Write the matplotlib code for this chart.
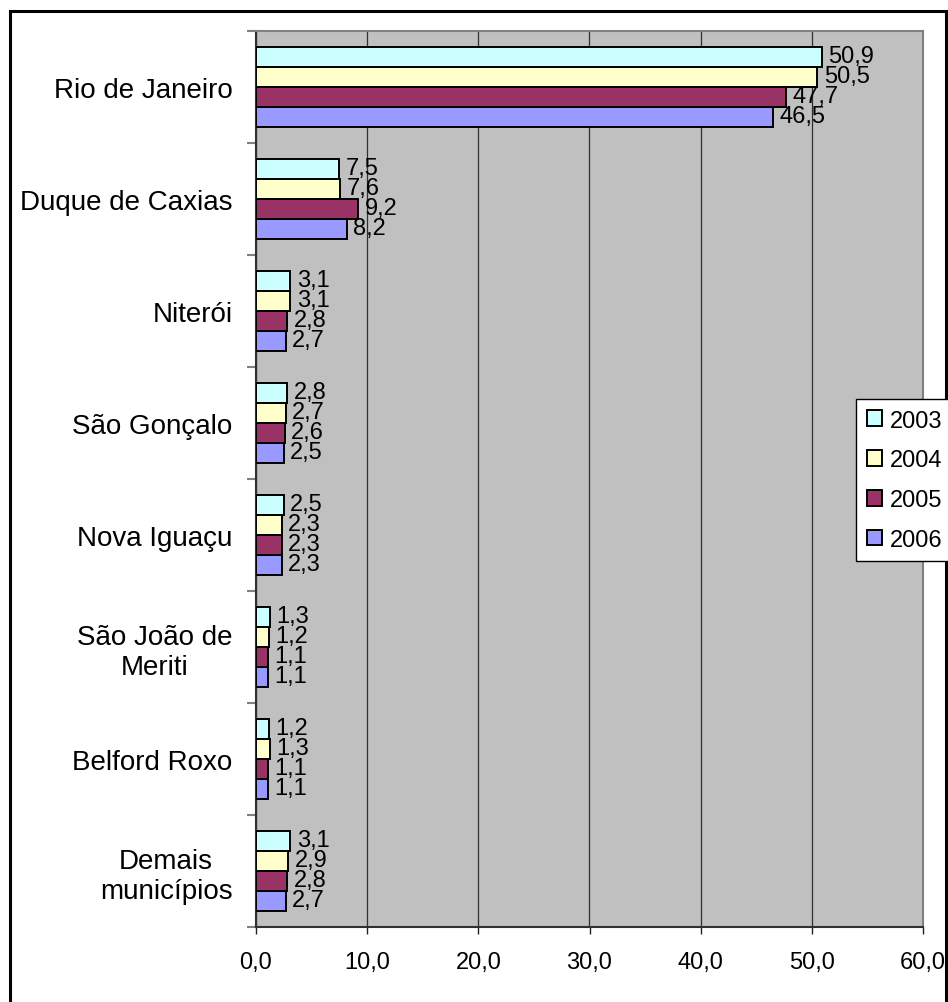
import matplotlib
matplotlib.use("Agg")
import matplotlib.pyplot as plt
import numpy as np
from matplotlib.patches import Rectangle

plt.rcParams["font.family"] = ["Liberation Sans", "DejaVu Sans"]

categories = ["Rio de Janeiro", "Duque de Caxias", "Niterói", "São Gonçalo",
              "Nova Iguaçu", "São João de\nMeriti", "Belford Roxo", "Demais\nmunicípios"]
years = ["2003", "2004", "2005", "2006"]
v2003 = [50.9, 7.5, 3.1, 2.8, 2.5, 1.3, 1.2, 3.1]
v2004 = [50.5, 7.6, 3.1, 2.7, 2.3, 1.2, 1.3, 2.9]
v2005 = [47.7, 9.2, 2.8, 2.6, 2.3, 1.1, 1.1, 2.8]
v2006 = [46.5, 8.2, 2.7, 2.5, 2.3, 1.1, 1.1, 2.7]
xticks = [0, 10, 20, 30, 40, 50, 60]

colors = ["#CCFFFF", "#FFFFCC", "#993366", "#9999FF"]

W, H = 948, 1003
fig = plt.figure(figsize=(W / 100, H / 100), dpi=100)

# outer chart frame (bottom edge falls outside the image)
fig.patches.append(Rectangle((10 / W, -0.02), (946 - 10) / W, 1.02 - 12 / H,
                             transform=fig.transFigure, fill=False,
                             edgecolor="black", linewidth=2.2))

left, right, top, bottom = 256, 923, 32, 928
ax = fig.add_axes([left / W, 1 - bottom / H, (right - left) / W, (bottom - top) / H])
ax.set_facecolor("#C0C0C0")

y = np.arange(len(categories))
h = 0.179
for i, (vals, c, yr) in enumerate(zip([v2003, v2004, v2005, v2006], colors, years)):
    pos = y + (i - 1.5) * h
    ax.barh(pos, vals, height=h, color=c, edgecolor="black", linewidth=1.4,
            label=yr, zorder=3)
    for p, v in zip(pos, vals):
        ax.annotate(f"{v:.1f}".replace(".", ","), (v, p), xytext=(4.5, 1),
                    textcoords="offset points", ha="left", va="center",
                    fontsize=17, zorder=4)

ax.set_xlim(0, 60)
ax.set_ylim(len(categories) - 0.5, -0.5)
ax.set_xticks(xticks)
ax.set_xticklabels([f"{t:.1f}".replace(".", ",") for t in xticks], fontsize=17)
ax.grid(axis="x", color="#303030", linewidth=0.9, zorder=1)
ax.set_axisbelow(True)

ax.set_yticks(y)
ax.set_yticklabels(categories, fontsize=20, multialignment="center")
ax.set_yticks(np.arange(-0.5, len(categories)), minor=True)
ax.tick_params(axis="y", which="major", length=0, pad=17)
ax.tick_params(axis="y", which="minor", length=6.5, width=1.5, color="#808080")
ax.tick_params(axis="x", length=5, width=1, color="#202020", pad=12)

for s in ["left", "bottom"]:
    ax.spines[s].set_color("#303030")
    ax.spines[s].set_linewidth(1.5)
for s in ["top", "right"]:
    ax.spines[s].set_color("#808080")
    ax.spines[s].set_linewidth(1.5)

leg = fig.legend(loc="upper left", bbox_to_anchor=(856 / W, 1 - 400 / H),
                 bbox_transform=fig.transFigure, fontsize=17, frameon=True,
                 fancybox=False, edgecolor="black", framealpha=1,
                 handlelength=0.65, handleheight=0.65, handletextpad=0.35,
                 labelspacing=0.75, borderpad=0.45, borderaxespad=0)
leg.get_frame().set_linewidth(1.0)

fig.savefig("out.png", dpi=100)
